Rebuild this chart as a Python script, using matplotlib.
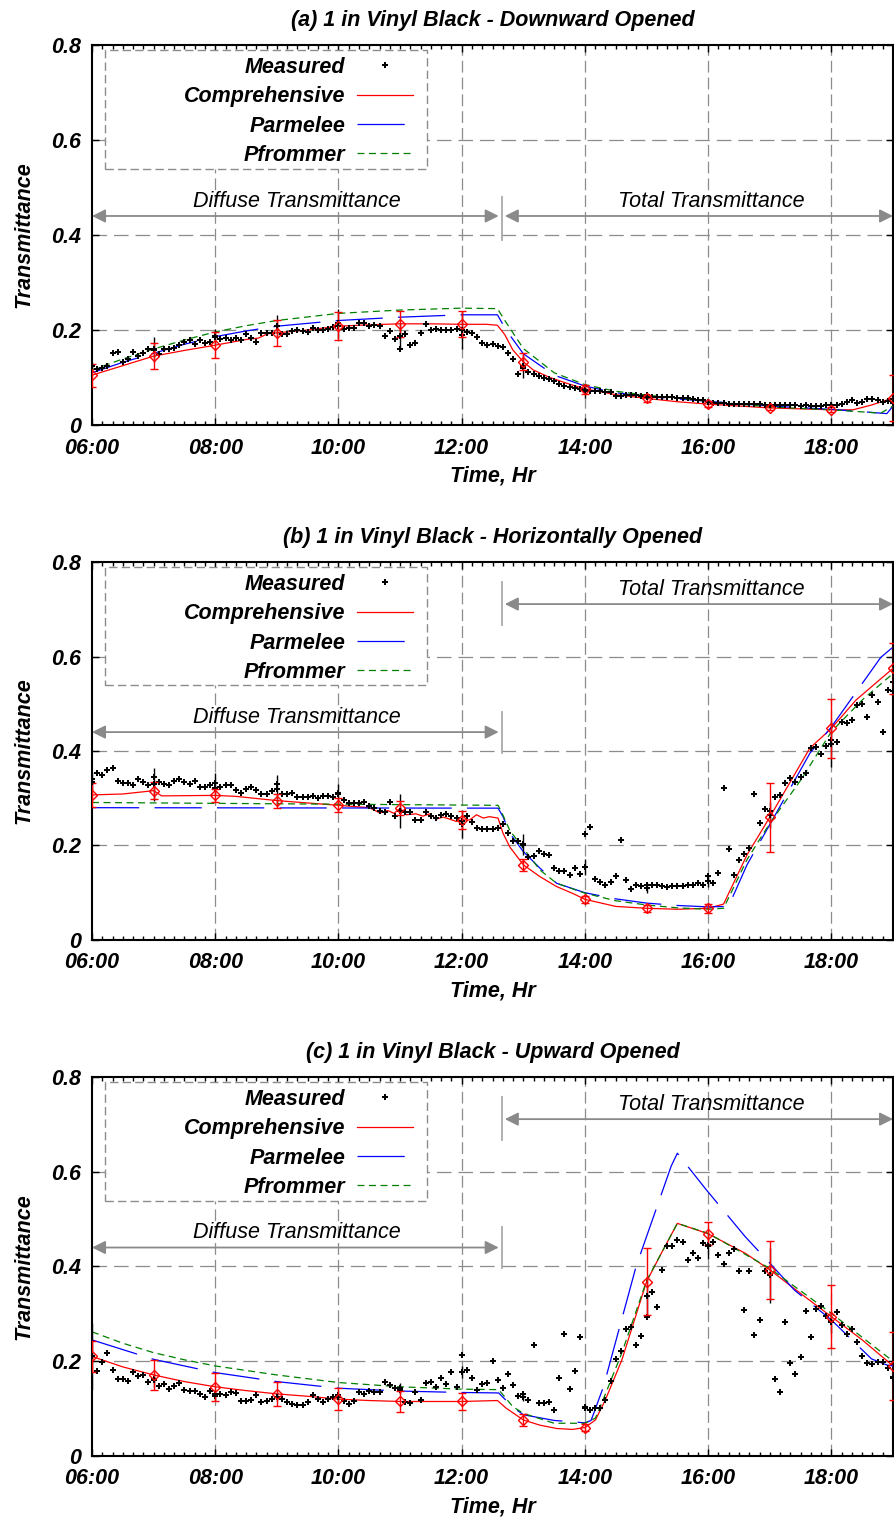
import numpy as np
import matplotlib
matplotlib.use("Agg")
import matplotlib.pyplot as plt
from matplotlib.patches import Rectangle
from matplotlib.ticker import MultipleLocator, FuncFormatter

plt.rcParams['font.family'] = ['Liberation Sans', 'DejaVu Sans']
plt.rcParams['lines.scale_dashes'] = False

# ---------------- data ----------------
# measured transmittance, every 5 minutes from 06:00 to 19:00 (157 values)
meas_a = [0.124, 0.118, 0.121, 0.124, 0.152, 0.154, 0.133, 0.140, 0.154, 0.145, 0.152, 0.161,
          0.157, 0.149, 0.161, 0.161, 0.163, 0.168, 0.175, 0.180, 0.171, 0.180, 0.173, 0.175,
          0.187, 0.182, 0.184, 0.180, 0.184, 0.179, 0.191, 0.184, 0.175, 0.194, 0.194, 0.194,
          0.208, 0.191, 0.191, 0.198, 0.201, 0.198, 0.196, 0.205, 0.200, 0.200, 0.203, 0.207,
          0.208, 0.203, 0.205, 0.205, 0.215, 0.215, 0.208, 0.210, 0.208, 0.187, 0.198, 0.182,
          0.160, 0.191, 0.168, 0.173, 0.193, 0.212, 0.200, 0.203, 0.201, 0.201, 0.201, 0.203,
          0.190, 0.196, 0.194, 0.185, 0.173, 0.168, 0.170, 0.166, 0.164, 0.152, 0.140, 0.107,
          0.119, 0.112, 0.107, 0.103, 0.100, 0.097, 0.092, 0.087, 0.083, 0.079, 0.077, 0.075,
          0.073, 0.072, 0.072, 0.072, 0.070, 0.069, 0.062, 0.062, 0.063, 0.064, 0.064, 0.062,
          0.064, 0.060, 0.059, 0.059, 0.058, 0.058, 0.057, 0.056, 0.056, 0.054, 0.053, 0.052,
          0.049, 0.047, 0.046, 0.046, 0.045, 0.045, 0.045, 0.044, 0.044, 0.044, 0.044, 0.043,
          0.043, 0.043, 0.042, 0.042, 0.042, 0.042, 0.041, 0.042, 0.041, 0.041, 0.041, 0.042,
          0.042, 0.043, 0.045, 0.048, 0.052, 0.046, 0.048, 0.055, 0.055, 0.052, 0.048, 0.050,
          0.055]
meas_b = [0.340, 0.353, 0.349, 0.360, 0.363, 0.337, 0.333, 0.333, 0.328, 0.340, 0.335, 0.328,
          0.346, 0.335, 0.330, 0.328, 0.337, 0.340, 0.335, 0.330, 0.337, 0.323, 0.323, 0.328,
          0.321, 0.323, 0.328, 0.328, 0.318, 0.311, 0.319, 0.323, 0.318, 0.309, 0.309, 0.316,
          0.331, 0.309, 0.309, 0.311, 0.302, 0.302, 0.302, 0.305, 0.300, 0.305, 0.304, 0.302,
          0.311, 0.296, 0.289, 0.289, 0.289, 0.291, 0.284, 0.279, 0.274, 0.270, 0.291, 0.262,
          0.272, 0.270, 0.270, 0.253, 0.253, 0.270, 0.262, 0.258, 0.265, 0.267, 0.262, 0.258,
          0.251, 0.262, 0.250, 0.236, 0.234, 0.234, 0.234, 0.236, 0.245, 0.226, 0.210, 0.210,
          0.203, 0.175, 0.178, 0.189, 0.182, 0.180, 0.152, 0.147, 0.145, 0.138, 0.152, 0.140,
          0.224, 0.240, 0.130, 0.122, 0.117, 0.123, 0.135, 0.212, 0.127, 0.108, 0.117, 0.115,
          0.117, 0.117, 0.117, 0.115, 0.112, 0.115, 0.115, 0.115, 0.116, 0.117, 0.120, 0.117,
          0.135, 0.120, 0.142, 0.322, 0.193, 0.138, 0.170, 0.183, 0.195, 0.308, 0.248, 0.278,
          0.274, 0.302, 0.307, 0.332, 0.342, 0.335, 0.344, 0.354, 0.406, 0.409, 0.394, 0.411,
          0.423, 0.418, 0.462, 0.459, 0.465, 0.497, 0.500, 0.471, 0.519, 0.503, 0.441, 0.530,
          0.545]
meas_c = [0.211, 0.180, 0.199, 0.218, 0.182, 0.162, 0.162, 0.159, 0.178, 0.168, 0.171, 0.157,
          0.162, 0.148, 0.152, 0.141, 0.148, 0.153, 0.140, 0.137, 0.137, 0.130, 0.125, 0.137,
          0.127, 0.130, 0.128, 0.134, 0.132, 0.115, 0.116, 0.118, 0.128, 0.113, 0.116, 0.120,
          0.125, 0.120, 0.113, 0.109, 0.107, 0.107, 0.114, 0.128, 0.120, 0.114, 0.120, 0.125,
          0.128, 0.116, 0.109, 0.116, 0.134, 0.130, 0.137, 0.135, 0.135, 0.157, 0.150, 0.143,
          0.140, 0.113, 0.111, 0.135, 0.118, 0.153, 0.157, 0.146, 0.164, 0.152, 0.178, 0.146,
          0.213, 0.182, 0.164, 0.139, 0.152, 0.153, 0.201, 0.160, 0.143, 0.173, 0.150, 0.127,
          0.130, 0.118, 0.234, 0.111, 0.111, 0.114, 0.097, 0.164, 0.258, 0.141, 0.180, 0.252,
          0.104, 0.097, 0.101, 0.101, 0.118, 0.159, 0.204, 0.222, 0.267, 0.272, 0.234, 0.253,
          0.293, 0.347, 0.314, 0.393, 0.443, 0.443, 0.456, 0.452, 0.414, 0.429, 0.417, 0.450,
          0.445, 0.452, 0.424, 0.405, 0.429, 0.436, 0.391, 0.308, 0.391, 0.255, 0.288, 0.391,
          0.382, 0.162, 0.136, 0.283, 0.196, 0.173, 0.208, 0.307, 0.252, 0.310, 0.317, 0.296,
          0.284, 0.303, 0.277, 0.258, 0.267, 0.241, 0.211, 0.197, 0.194, 0.199, 0.199, 0.185,
          0.166]

# hourly values with error bars (06:00 ... 19:00)
hours = list(range(6, 20))
meas_hr_a = [0.125, 0.159, 0.186, 0.209, 0.214, 0.187, 0.200, 0.125, 0.072, 0.060, 0.049, 0.043, 0.043, 0.046]
meas_err_a = [0.008, 0.027, 0.016, 0.023, 0.030, 0.028, 0.040, 0.025, 0.015, 0.006, 0.005, 0.005, 0.006, 0.042]
meas_hr_b = [0.335, 0.330, 0.332, 0.320, 0.310, 0.272, 0.245, 0.202, 0.154, 0.110, 0.124, 0.264, 0.415, 0.527]
meas_err_b = [0.020, 0.035, 0.022, 0.030, 0.020, 0.036, 0.030, 0.022, 0.017, 0.011, 0.011, 0.028, 0.048, 0.048]
meas_hr_c = [0.210, 0.160, 0.130, 0.125, 0.125, 0.143, 0.177, 0.125, 0.102, 0.338, 0.443, 0.381, 0.282, 0.165]
meas_err_c = [0.070, 0.015, 0.012, 0.010, 0.015, 0.012, 0.013, 0.008, 0.006, 0.040, 0.028, 0.059, 0.022, 0.065]

comp_hr_a = [0.105, 0.145, 0.168, 0.194, 0.208, 0.213, 0.212, 0.133, 0.075, 0.056, 0.044, 0.036, 0.032, 0.057]
comp_err_a = [0.024, 0.027, 0.027, 0.027, 0.030, 0.027, 0.027, 0.018, 0.010, 0.007, 0.006, 0.005, 0.005, 0.049]
comp_hr_b = [0.307, 0.316, 0.306, 0.295, 0.285, 0.279, 0.254, 0.159, 0.086, 0.067, 0.067, 0.260, 0.448, 0.575]
comp_err_b = [0.026, 0.018, 0.013, 0.015, 0.015, 0.015, 0.020, 0.012, 0.007, 0.008, 0.010, 0.073, 0.062, 0.054]
comp_hr_c = [0.210, 0.171, 0.146, 0.131, 0.120, 0.115, 0.115, 0.076, 0.060, 0.368, 0.469, 0.393, 0.294, 0.190]
comp_err_c = [0.033, 0.032, 0.029, 0.026, 0.023, 0.023, 0.018, 0.012, 0.008, 0.070, 0.024, 0.061, 0.067, 0.072]

# model curves (time in hours, transmittance)
comp_t_a = [6, 6.5, 7, 7.5, 8, 8.5, 8.7, 8.85, 9, 9.5, 10, 10.5, 11, 11.5, 12, 12.4, 12.58, 12.7, 12.83,
            13, 13.16, 13.43, 13.7, 14, 14.5, 15, 15.5, 16, 16.5, 17, 17.5, 18, 18.35, 18.65, 19]
comp_a = [0.105, 0.125, 0.145, 0.157, 0.168, 0.180, 0.183, 0.192, 0.194, 0.200, 0.208, 0.211, 0.213, 0.213,
          0.212, 0.212, 0.210, 0.190, 0.158, 0.133, 0.116, 0.100, 0.088, 0.076, 0.064, 0.056, 0.049, 0.044,
          0.040, 0.036, 0.034, 0.032, 0.032, 0.042, 0.057]
parm_t_a = [6, 6.5, 7, 7.5, 8, 8.5, 9, 10, 11, 12, 12.58, 12.72, 13, 13.5, 14, 14.5, 15, 16, 17, 18, 18.9, 19]
parm_a = [0.110, 0.132, 0.151, 0.170, 0.186, 0.198, 0.208, 0.220, 0.227, 0.232, 0.232, 0.200, 0.150, 0.105,
          0.082, 0.068, 0.060, 0.050, 0.040, 0.033, 0.024, 0.040]
pfr_t_a = [6, 6.5, 7, 7.5, 8, 8.5, 9, 10, 11, 12, 12.58, 12.7, 13, 13.5, 14, 14.5, 15, 16, 17, 18, 18.8, 19]
pfr_a = [0.116, 0.139, 0.160, 0.179, 0.196, 0.209, 0.220, 0.235, 0.242, 0.246, 0.245, 0.220, 0.161, 0.110,
         0.085, 0.071, 0.063, 0.050, 0.038, 0.032, 0.025, 0.040]

comp_t_b = [6, 6.5, 7, 7.13, 8, 8.33, 9, 9.5, 10, 10.5, 10.67, 10.8, 10.9, 11, 11.1, 11.26, 11.37, 11.48,
            11.59, 11.7, 11.8, 11.91, 12, 12.13, 12.24, 12.35, 12.45, 12.59, 12.67, 12.78, 13, 13.27, 13.54,
            13.81, 14, 14.5, 15, 15.5, 16, 16.25, 16.63, 17, 17.65, 18, 18.4, 19]
comp_b = [0.307, 0.309, 0.316, 0.305, 0.306, 0.304, 0.295, 0.290, 0.285, 0.280, 0.269, 0.274, 0.268, 0.279,
          0.265, 0.267, 0.262, 0.267, 0.256, 0.260, 0.256, 0.251, 0.254, 0.254, 0.265, 0.258, 0.261, 0.258,
          0.226, 0.197, 0.159, 0.134, 0.113, 0.098, 0.086, 0.071, 0.067, 0.065, 0.067, 0.076, 0.180, 0.260,
          0.406, 0.448, 0.508, 0.575]
parm_t_b = [6, 12.59, 12.67, 12.78, 13, 13.27, 13.54, 14, 14.5, 15, 15.5, 16, 16.33, 16.63, 17.12, 17.65,
            18, 18.8, 19]
parm_b = [0.280, 0.279, 0.261, 0.226, 0.187, 0.152, 0.120, 0.100, 0.087, 0.078, 0.073, 0.070, 0.071, 0.159,
          0.272, 0.395, 0.451, 0.598, 0.620]
pfr_t_b = [6, 12.59, 12.67, 12.78, 13, 13.27, 13.54, 14, 14.5, 15, 15.5, 16, 16.25, 16.63, 17, 17.5, 18,
           18.5, 19]
pfr_b = [0.291, 0.285, 0.264, 0.232, 0.194, 0.148, 0.120, 0.099, 0.083, 0.074, 0.068, 0.065, 0.067, 0.170,
         0.247, 0.338, 0.441, 0.508, 0.564]

comp_t_c = [6, 6.5, 7, 7.5, 8, 8.5, 9, 9.5, 10, 10.5, 11, 11.5, 12, 12.58, 12.72, 13, 13.27, 13.54, 13.8,
            14, 14.17, 14.33, 14.6, 15, 15.24, 15.5, 16, 16.6, 17, 17.5, 18, 18.5, 19]
comp_c = [0.210, 0.188, 0.171, 0.157, 0.146, 0.138, 0.131, 0.126, 0.120, 0.117, 0.115, 0.115, 0.115, 0.117,
          0.101, 0.076, 0.065, 0.058, 0.056, 0.060, 0.076, 0.118, 0.203, 0.368, 0.428, 0.491, 0.469, 0.428,
          0.393, 0.343, 0.294, 0.245, 0.190]
parm_t_c = [6, 7, 8, 9, 10, 11, 12, 12.6, 12.83, 13, 13.5, 14, 14.1, 14.3, 14.83, 15.4, 15.5, 15.95, 16.6,
            17, 17.4, 18, 18.65, 18.9, 19]
parm_c = [0.245, 0.204, 0.176, 0.157, 0.143, 0.137, 0.134, 0.133, 0.103, 0.087, 0.075, 0.070, 0.075, 0.146,
          0.400, 0.612, 0.639, 0.565, 0.463, 0.407, 0.350, 0.287, 0.205, 0.192, 0.190]
pfr_t_c = [6, 6.5, 7, 7.5, 8, 9, 10, 11, 12, 12.6, 12.83, 13, 13.5, 14, 14.17, 14.33, 14.6, 15, 15.5, 16,
           17, 18, 19]
pfr_c = [0.262, 0.238, 0.218, 0.203, 0.190, 0.171, 0.155, 0.146, 0.141, 0.140, 0.104, 0.090, 0.069, 0.069,
         0.080, 0.130, 0.218, 0.370, 0.491, 0.470, 0.396, 0.301, 0.200]

titles = ["(a) 1 in Vinyl Black - Downward Opened",
          "(b) 1 in Vinyl Black - Horizontally Opened",
          "(c) 1 in Vinyl Black - Upward Opened"]
labels = ["Measured", "Comprehensive", "Parmelee", "Pfrommer"]

t5 = 6 + np.arange(len(meas_a)) * 5 / 60.0

FS = 15.5
GRAY = '#8c8c8c'


def panel(ax, title, meas, mhr, merr, chr_, cerr, ct, c, pt, p, ft, f, total_y):
    ax.set_xlim(6, 19)
    ax.set_ylim(0, 0.8)
    ax.xaxis.set_major_locator(MultipleLocator(2))
    ax.xaxis.set_minor_locator(MultipleLocator(1 / 6))
    ax.yaxis.set_major_locator(MultipleLocator(0.2))
    ax.xaxis.set_major_formatter(FuncFormatter(lambda v, p: "%02d:00" % int(round(v))))
    ax.yaxis.set_major_formatter(FuncFormatter(lambda v, p: "0" if abs(v) < 1e-9 else "%.1f" % v))
    ax.tick_params(which='both', direction='in', top=True, right=True, labelsize=FS, width=1)
    ax.tick_params(which='major', length=5)
    ax.tick_params(axis='y', which='major', pad=8)
    ax.tick_params(axis='x', which='major', pad=9)
    ax.tick_params(which='minor', length=3)
    for lab in ax.get_xticklabels() + ax.get_yticklabels():
        lab.set_fontweight('bold')
        lab.set_fontstyle('italic')
    for s in ax.spines.values():
        s.set_linewidth(1.5)

    # grid
    for x in [8, 10, 12, 14, 16, 18]:
        ax.axvline(x, color=GRAY, lw=0.9, ls=(0, (8.5, 3.6)), zorder=0)
    for y in [0.2, 0.4, 0.6]:
        ax.axhline(y, color=GRAY, lw=0.9, ls=(0, (10.5, 5)), zorder=0)

    # models
    hc, = ax.plot(ct, c, color='red', lw=0.9, zorder=3)
    hp, = ax.plot(pt, p, color='blue', lw=0.9, ls=(0, (34, 11)), zorder=3)
    hf, = ax.plot(ft, f, color='green', lw=0.9, ls=(0, (5, 3.3)), zorder=3)
    hm, = ax.plot(t5, meas, ls='none', marker='P', ms=4.3, color='black', mew=0, zorder=4)

    ax.errorbar(hours, mhr, yerr=merr, fmt='P', ms=4.3, color='black', mew=0,
                elinewidth=1, capsize=3, capthick=1, zorder=5)
    ax.errorbar(hours, chr_, yerr=cerr, fmt='D', ms=5.5, mfc='none', mec='red', mew=1,
                ecolor='red', elinewidth=1, capsize=3, capthick=1, zorder=5)

    # diffuse / total arrows
    arrow = dict(arrowstyle='<|-|>', color='#8a8a8a', lw=1.3, mutation_scale=20, shrinkA=0, shrinkB=0)
    ax.annotate('', xy=(12.6, 0.44), xytext=(6.0, 0.44), arrowprops=arrow, annotation_clip=False)
    ax.annotate('', xy=(19.0, total_y), xytext=(12.7, total_y), arrowprops=arrow, annotation_clip=False)
    if abs(total_y - 0.44) < 1e-6:
        ax.plot([12.65, 12.65], [0.39, 0.48], color='#aaaaaa', lw=1.3, zorder=2)
    else:
        ax.plot([12.65, 12.65], [0.396, 0.483], color='#aaaaaa', lw=1.3, zorder=2)
        ax.plot([12.65, 12.65], [0.667, 0.757], color='#aaaaaa', lw=1.3, zorder=2)
    ax.text(9.32, 0.44 + 0.031, "Diffuse Transmittance", ha='center', va='center',
            fontsize=FS, style='italic', weight='normal')
    ax.text(16.05, total_y + 0.031, "Total Transmittance", ha='center', va='center',
            fontsize=FS, style='italic', weight='normal')

    # legend with dashed box
    ax.add_patch(Rectangle((0.0159, 0.674), 0.402, 0.313, transform=ax.transAxes,
                           facecolor='white', edgecolor=GRAY, lw=1, ls=(0, (6, 3)), zorder=6))
    leg = ax.legend([hm, hc, hp, hf], labels, loc='upper right', bbox_to_anchor=(0.401, 0.969),
                    frameon=False, markerfirst=False, numpoints=1, handlelength=2.6,
                    handletextpad=0.55, labelspacing=0.39, borderpad=0, borderaxespad=0,
                    prop=dict(size=FS, weight='bold', style='italic'))
    leg.set_zorder(7)

    ax.set_title(title, fontsize=FS, weight='bold', style='italic', pad=14)
    ax.set_xlabel("Time, Hr", fontsize=FS, weight='bold', style='italic', labelpad=5)
    ax.set_ylabel("Transmittance", fontsize=FS, weight='bold', style='italic', labelpad=12)


fig = plt.figure(figsize=(8.95, 15.19), dpi=100)
ax_a = fig.add_axes([0.1028, 0.7202, 0.8950, 0.2502])
ax_b = fig.add_axes([0.1028, 0.3812, 0.8950, 0.2488])
ax_c = fig.add_axes([0.1028, 0.0415, 0.8950, 0.2495])

panel(ax_a, titles[0], meas_a, meas_hr_a, meas_err_a, comp_hr_a, comp_err_a,
      comp_t_a, comp_a, parm_t_a, parm_a, pfr_t_a, pfr_a, 0.44)
panel(ax_b, titles[1], meas_b, meas_hr_b, meas_err_b, comp_hr_b, comp_err_b,
      comp_t_b, comp_b, parm_t_b, parm_b, pfr_t_b, pfr_b, 0.711)
panel(ax_c, titles[2], meas_c, meas_hr_c, meas_err_c, comp_hr_c, comp_err_c,
      comp_t_c, comp_c, parm_t_c, parm_c, pfr_t_c, pfr_c, 0.711)

fig.savefig("out.png", dpi=100)
